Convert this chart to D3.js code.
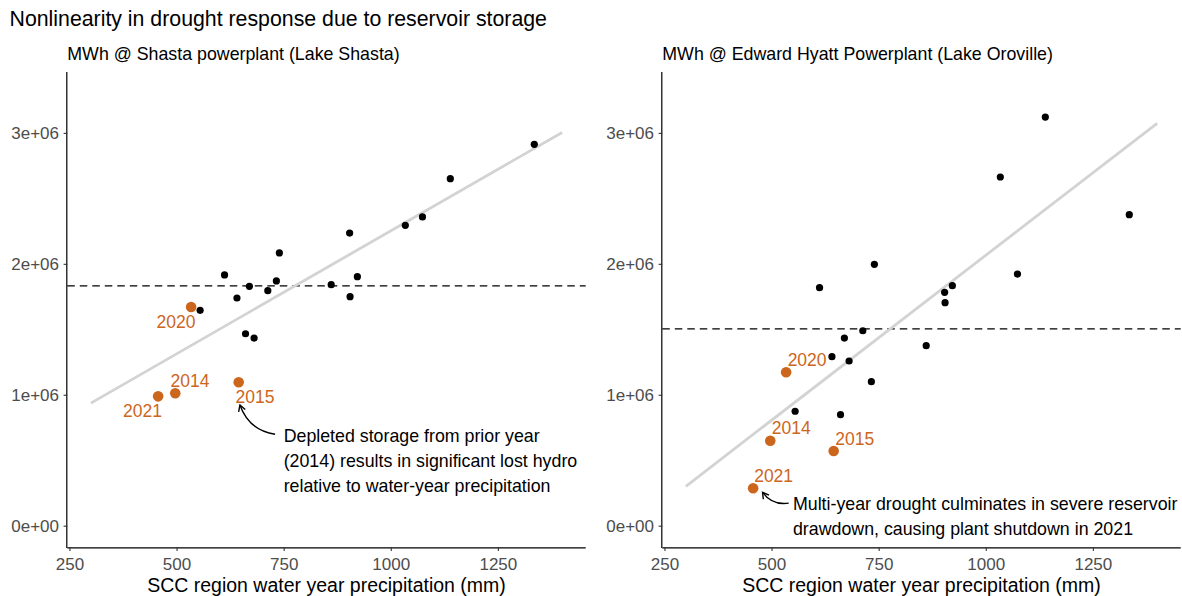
<!DOCTYPE html>
<html>
<head>
<meta charset="utf-8">
<script src="https://cdn.jsdelivr.net/npm/d3@7"></script>
<style>
  html, body { margin: 0; padding: 0; background: #ffffff; }
  svg { display: block; font-family: "Liberation Sans", Arial, Helvetica, sans-serif; }
</style>
</head>
<body>
<svg id="chart" width="1182" height="596"></svg>
<script>
// ---- data -------------------------------------------------------------
// Water-year precipitation (mm) in the SCC region, ordinary years
const precip     = [555, 612, 641, 661, 670, 681, 713, 733, 740, 861, 904, 905, 922, 1034, 1074, 1139, 1335];
// Annual generation (MWh) for those years
const shastaMWh  = [1.645e6, 1.915e6, 1.739e6, 1.466e6, 1.828e6, 1.433e6, 1.795e6, 1.869e6, 2.083e6, 1.841e6,
                    2.235e6, 1.749e6, 1.902e6, 2.294e6, 2.358e6, 2.650e6, 2.913e6];
const oroMWh     = [0.874e6, 1.818e6, 1.291e6, 0.848e6, 1.433e6, 1.258e6, 1.489e6, 1.100e6, 1.996e6, 1.375e6,
                    1.782e6, 1.703e6, 1.833e6, 2.663e6, 1.922e6, 3.121e6, 2.375e6];

// Drought years, highlighted and labelled
const droughtYears  = ["2014", "2015", "2020", "2021"];
const droughtPrecip = [497, 645, 534, 457];
const droughtShasta = [1.011e6, 1.095e6, 1.670e6, 0.988e6];
const droughtOro    = [0.649e6, 0.570e6, 1.172e6, 0.286e6];

// Axis ticks
const xTicks = [250, 500, 750, 1000, 1250];
const yTicks = [0, 1e6, 2e6, 3e6];
const yTickLabels = ["0e+00", "1e+06", "2e+06", "3e+06"];

// Range over which the linear trend is drawn, and the y limits
const fitRange = [300, 1400];
const yLimits  = [0, 3.3e6];

// ---- layout -----------------------------------------------------------
const ORANGE = "#CD661D";
const FONT_AXIS_TEXT = 17;
const plotTop = 72, plotBottom = 547.3, panelW = 518.4;

const svg = d3.select("#chart");

svg.append("text")
  .attr("x", 9.5).attr("y", 26)
  .attr("font-size", 21.3).attr("fill", "#000")
  .text("Nonlinearity in drought response due to reservoir storage");

// ggplot-style 5% expansion
function expand(lim) {
  const d = (lim[1] - lim[0]) * 0.05;
  return [lim[0] - d, lim[1] + d];
}

// ordinary least squares over all points
function olsFit(xs, ys) {
  const mx = d3.mean(xs), my = d3.mean(ys);
  let sxy = 0, sxx = 0;
  xs.forEach((x, i) => { sxy += (x - mx) * (ys[i] - my); sxx += (x - mx) * (x - mx); });
  const b = sxy / sxx;
  return x => my + b * (x - mx);
}

const panels = [
  {
    left: 67.3,
    subtitle: "MWh @ Shasta powerplant (Lake Shasta)",
    mwh: shastaMWh,
    drought: droughtShasta,
    // label offsets (px) from each drought point, with text centred
    labelOffsets: [[14.8, -6.6], [16.3, 21], [-15.2, 20.7], [-15.6, 21]],
    note: {
      x: 750, y: 0.64e6,
      lines: ["Depleted storage from prior year",
              "(2014) results in significant lost hydro",
              "relative to water-year precipitation"],
      from: [730, 0.698e6], to: [648, 0.922e6]
    }
  },
  {
    left: 662.3,
    subtitle: "MWh @ Edward Hyatt Powerplant (Lake Oroville)",
    mwh: oroMWh,
    drought: droughtOro,
    labelOffsets: [[21, -6.3], [21, -6.3], [21, -6.3], [20.5, -6.3]],
    note: {
      x: 550, y: 0.12e6,
      lines: ["Multi-year drought culminates in severe reservoir",
              "drawdown, causing plant shutdown in 2021"],
      from: [540, 0.172e6], to: [479, 0.255e6]
    }
  }
];

panels.forEach(p => {
  const x = d3.scaleLinear().domain(expand(fitRange)).range([p.left, p.left + panelW]);
  const y = d3.scaleLinear().domain(expand(yLimits)).range([plotBottom, plotTop]);
  const g = svg.append("g");

  const allX = precip.concat(droughtPrecip);
  const allY = p.mwh.concat(p.drought);

  // subtitle
  g.append("text")
    .attr("x", p.left).attr("y", 59.5)
    .attr("font-size", 17.8).attr("fill", "#000")
    .text(p.subtitle);

  // axes
  const xAxis = d3.axisBottom(x).tickValues(xTicks).tickSize(3.7).tickPadding(4.5).tickFormat(d3.format("d"));
  const gx = g.append("g").attr("transform", `translate(0,${plotBottom})`).call(xAxis);
  gx.select(".domain").attr("d", `M${p.left},0.5H${p.left + panelW}`).attr("stroke", "#000").attr("stroke-width", 1.2);
  gx.selectAll(".tick line").attr("stroke", "#333").attr("stroke-width", 1.1);
  gx.selectAll(".tick text").attr("fill", "#4D4D4D").attr("font-size", FONT_AXIS_TEXT)
    .attr("font-family", "Liberation Sans, Arial, sans-serif").attr("dy", null).attr("y", 22.7);

  const yAxis = d3.axisLeft(y).tickValues(yTicks).tickSize(3.7).tickPadding(4.6)
    .tickFormat((d, i) => yTickLabels[i]);
  const gy = g.append("g").attr("transform", `translate(${p.left},0)`).call(yAxis);
  gy.select(".domain").attr("d", `M-0.5,${plotTop}V${plotBottom + 0.6}`).attr("stroke", "#000").attr("stroke-width", 1.2);
  gy.selectAll(".tick line").attr("stroke", "#333").attr("stroke-width", 1.1);
  gy.selectAll(".tick text").attr("fill", "#4D4D4D").attr("font-size", FONT_AXIS_TEXT)
    .attr("font-family", "Liberation Sans, Arial, sans-serif");

  // x-axis title
  g.append("text")
    .attr("x", p.left + panelW / 2).attr("y", 591.5)
    .attr("text-anchor", "middle").attr("font-size", 19.5).attr("fill", "#000")
    .text("SCC region water year precipitation (mm)");

  // mean generation (dashed)
  const meanY = d3.mean(allY);
  g.append("line")
    .attr("x1", p.left).attr("x2", p.left + panelW)
    .attr("y1", y(meanY)).attr("y2", y(meanY))
    .attr("stroke", "#000").attr("stroke-width", 1.3).attr("stroke-dasharray", "7.5,5");

  // linear trend
  const fit = olsFit(allX, allY);
  g.append("line")
    .attr("x1", x(fitRange[0])).attr("y1", y(fit(fitRange[0])))
    .attr("x2", x(fitRange[1])).attr("y2", y(fit(fitRange[1])))
    .attr("stroke", "#D3D3D3").attr("stroke-width", 2.8);

  // ordinary years
  g.selectAll("circle.pt").data(precip).enter().append("circle")
    .attr("class", "pt")
    .attr("cx", d => x(d)).attr("cy", (d, i) => y(p.mwh[i]))
    .attr("r", 3.6).attr("fill", "#000");

  // drought years
  g.selectAll("circle.dr").data(droughtPrecip).enter().append("circle")
    .attr("class", "dr")
    .attr("cx", d => x(d)).attr("cy", (d, i) => y(p.drought[i]))
    .attr("r", 5.3).attr("fill", ORANGE);

  g.selectAll("text.yr").data(droughtYears).enter().append("text")
    .attr("class", "yr")
    .attr("x", (d, i) => x(droughtPrecip[i]) + p.labelOffsets[i][0])
    .attr("y", (d, i) => y(p.drought[i]) + p.labelOffsets[i][1])
    .attr("text-anchor", "middle").attr("font-size", 17.5).attr("fill", ORANGE)
    .text(d => d);

  // annotation text
  const t = g.append("text")
    .attr("x", x(p.note.x)).attr("y", y(p.note.y))
    .attr("font-size", 17.8).attr("fill", "#000");
  p.note.lines.forEach((ln, i) => {
    t.append("tspan").attr("x", x(p.note.x)).attr("dy", i === 0 ? 0 : 25).text(ln);
  });

  // curved arrow
  const s = [x(p.note.from[0]), y(p.note.from[1])];
  const e = [x(p.note.to[0]), y(p.note.to[1])];
  const dx = e[0] - s[0], dy = e[1] - s[1];
  const len = Math.hypot(dx, dy);
  const ux = dx / len, uy = dy / len;
  const bend = 0.3 * len;
  const c = [(s[0] + e[0]) / 2 + uy * bend, (s[1] + e[1]) / 2 - ux * bend];
  g.append("path")
    .attr("d", `M${s[0]},${s[1]}Q${c[0]},${c[1]} ${e[0]},${e[1]}`)
    .attr("fill", "none").attr("stroke", "#000").attr("stroke-width", 1.4);
  const ang = Math.atan2(e[1] - c[1], e[0] - c[0]);
  const ah = 7, spread = Math.PI / 6;
  const a1 = [e[0] - ah * Math.cos(ang - spread), e[1] - ah * Math.sin(ang - spread)];
  const a2 = [e[0] - ah * Math.cos(ang + spread), e[1] - ah * Math.sin(ang + spread)];
  g.append("path")
    .attr("d", `M${a1[0]},${a1[1]}L${e[0]},${e[1]}L${a2[0]},${a2[1]}`)
    .attr("fill", "none").attr("stroke", "#000").attr("stroke-width", 1.4);
});
</script>
</body>
</html>
